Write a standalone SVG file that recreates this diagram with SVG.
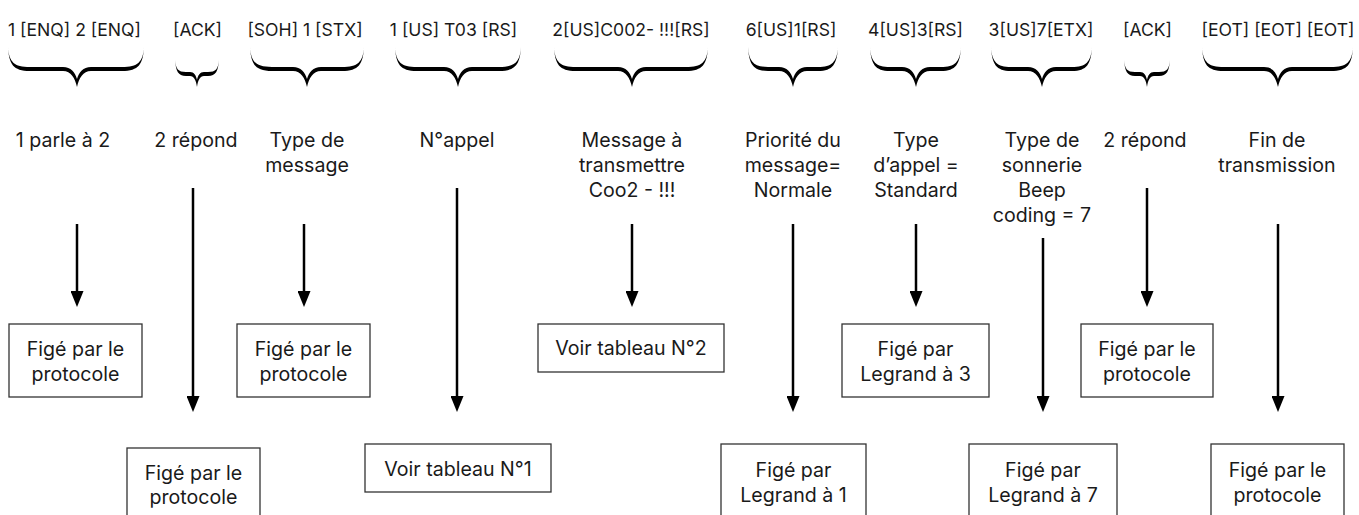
<svg xmlns="http://www.w3.org/2000/svg" width="1359" height="515" viewBox="0 0 1359 515">
<defs>
<style>
text{font-family:Inter,"Liberation Sans",Arial,sans-serif;fill:#1a1a1a;text-anchor:middle}
.top{font-size:17.6px}
.lbl{font-size:19.6px}
.box rect{fill:#fff;stroke:#333;stroke-width:1.3}
.box text{font-size:19.6px}
.brace{fill:#000}
.arr{stroke:#000;stroke-width:2.5;fill:none;marker-end:url(#ah)}
</style>
<marker id="ah" viewBox="0 0 16 13" refX="1" refY="6.5" markerWidth="16" markerHeight="13" orient="auto" markerUnits="userSpaceOnUse">
<path d="M0,0 L16,6.5 L0,13 Z" fill="#000"/>
</marker>
</defs>

<g id="top-labels">
<text class="top" x="74.5" y="36">1 [ENQ] 2 [ENQ]</text>
<text class="top" x="197.5" y="36">[ACK]</text>
<text class="top" x="305" y="36">[SOH] 1 [STX]</text>
<text class="top" x="453.5" y="36">1 [US] T03 [RS]</text>
<text class="top" x="631" y="36">2[US]C002- !!![RS]</text>
<text class="top" x="791" y="36">6[US]1[RS]</text>
<text class="top" x="915.5" y="36">4[US]3[RS]</text>
<text class="top" x="1041" y="36">3[US]7[ETX]</text>
<text class="top" x="1147.5" y="36">[ACK]</text>
<text class="top" x="1278" y="36">[EOT] [EOT] [EOT]</text>
</g>

<g id="braces">
<path class="brace" d="M8,47 C9,64 13,71 30,71 L63,71 C71,71 75,78 77,87 C79,78 83,71 91,71 L122,71 C139,71 143,64 144,47 C143,62 138,67 122,67 L91,67 C83,67 79,72 77,79 C75,72 71,67 63,67 L30,67 C14,67 9,62 8,47 Z"/>
<path class="brace" d="M175,60 C176,71 178,76 186,76 L190,76 C194,76 196,80 197,87 C198,80 200,76 204,76 L208,76 C216,76 218,71 219,60 C218,69 216,72 208,72 L204,72 C200,72 198,75 197,80 C196,75 194,72 190,72 L186,72 C178,72 176,69 175,60 Z"/>
<path class="brace" d="M250,47 C251,64 255,71 272,71 L293,71 C301,71 305,78 307,87 C309,78 313,71 321,71 L342,71 C359,71 363,64 364,47 C363,62 358,67 342,67 L321,67 C313,67 309,72 307,79 C305,72 301,67 293,67 L272,67 C256,67 251,62 250,47 Z"/>
<path class="brace" d="M395,47 C396,64 400,71 417,71 L444,71 C452,71 456,78 458,87 C460,78 464,71 472,71 L499,71 C516,71 520,64 521,47 C520,62 515,67 499,67 L472,67 C464,67 460,72 458,79 C456,72 452,67 444,67 L417,67 C401,67 396,62 395,47 Z"/>
<path class="brace" d="M554,47 C555,64 559,71 576,71 L618,71 C626,71 630,78 632,87 C634,78 638,71 646,71 L686,71 C703,71 707,64 708,47 C707,62 702,67 686,67 L646,67 C638,67 634,72 632,79 C630,72 626,67 618,67 L576,67 C560,67 555,62 554,47 Z"/>
<path class="brace" d="M748,47 C749,64 753,71 768,71 L779,71 C787,71 791,78 793,87 C795,78 799,71 807,71 L818,71 C833,71 837,64 838,47 C837,62 832,67 818,67 L807,67 C799,67 795,72 793,79 C791,72 787,67 779,67 L768,67 C754,67 749,62 748,47 Z"/>
<path class="brace" d="M870,47 C871,64 875,71 890,71 L902,71 C910,71 914,78 916,87 C918,78 922,71 930,71 L941,71 C956,71 960,64 961,47 C960,62 955,67 941,67 L930,67 C922,67 918,72 916,79 C914,72 910,67 902,67 L890,67 C876,67 871,62 870,47 Z"/>
<path class="brace" d="M991,47 C992,64 996,71 1011,71 L1028,71 C1036,71 1040,78 1042,87 C1044,78 1048,71 1056,71 L1072,71 C1087,71 1091,64 1092,47 C1091,62 1086,67 1072,67 L1056,67 C1048,67 1044,72 1042,79 C1040,72 1036,67 1028,67 L1011,67 C997,67 992,62 991,47 Z"/>
<path class="brace" d="M1124,60 C1125,71 1127,76 1135,76 L1140,76 C1144,76 1146,80 1147,87 C1148,80 1150,76 1154,76 L1159,76 C1167,76 1169,71 1170,60 C1169,69 1167,72 1159,72 L1154,72 C1150,72 1148,75 1147,80 C1146,75 1144,72 1140,72 L1135,72 C1127,72 1125,69 1124,60 Z"/>
<path class="brace" d="M1202,47 C1203,64 1207,71 1224,71 L1264,71 C1272,71 1276,78 1278,87 C1280,78 1284,71 1292,71 L1331,71 C1348,71 1352,64 1353,47 C1352,62 1347,67 1331,67 L1292,67 C1284,67 1280,72 1278,79 C1276,72 1272,67 1264,67 L1224,67 C1208,67 1203,62 1202,47 Z"/>
</g>

<g id="mid-labels">
<text class="lbl" x="63" y="147">1 parle à 2</text>
<text class="lbl" x="196" y="147">2 répond</text>
<text class="lbl" x="307" y="147">Type de</text>
<text class="lbl" x="307" y="172">message</text>
<text class="lbl" x="457" y="147">N°appel</text>
<text class="lbl" x="632" y="147">Message à</text>
<text class="lbl" x="632" y="172">transmettre</text>
<text class="lbl" x="632" y="197">Coo2 - !!!</text>
<text class="lbl" x="793" y="147">Priorité du</text>
<text class="lbl" x="793" y="172">message=</text>
<text class="lbl" x="793" y="197">Normale</text>
<text class="lbl" x="916" y="147">Type</text>
<text class="lbl" x="916" y="172">d’appel =</text>
<text class="lbl" x="916" y="197">Standard</text>
<text class="lbl" x="1042" y="147">Type de</text>
<text class="lbl" x="1042" y="172">sonnerie</text>
<text class="lbl" x="1042" y="197">Beep</text>
<text class="lbl" x="1042" y="222">coding = 7</text>
<text class="lbl" x="1145" y="147">2 répond</text>
<text class="lbl" x="1277" y="147">Fin de</text>
<text class="lbl" x="1277" y="172">transmission</text>
</g>

<g id="connectors">
<line class="arr" x1="77" y1="224" x2="77" y2="292"/>
<line class="arr" x1="193" y1="188" x2="193" y2="397"/>
<line class="arr" x1="304" y1="224" x2="304" y2="292"/>
<line class="arr" x1="457" y1="188" x2="457" y2="397"/>
<line class="arr" x1="632" y1="224" x2="632" y2="292"/>
<line class="arr" x1="793" y1="224" x2="793" y2="397"/>
<line class="arr" x1="916" y1="224" x2="916" y2="292"/>
<line class="arr" x1="1043" y1="238" x2="1043" y2="397"/>
<line class="arr" x1="1147" y1="188" x2="1147" y2="292"/>
<line class="arr" x1="1278" y1="224" x2="1278" y2="397"/>
</g>

<g id="box1" class="box"><rect x="9" y="324" width="133" height="73"/><text x="75.5" y="356">Figé par le</text><text x="75.5" y="381">protocole</text></g>
<g id="box3" class="box"><rect x="237" y="324" width="133" height="73"/><text x="303.5" y="356">Figé par le</text><text x="303.5" y="381">protocole</text></g>
<g id="box5" class="box"><rect x="538" y="324" width="186" height="48"/><text x="631" y="355">Voir tableau N°2</text></g>
<g id="box7" class="box"><rect x="842" y="324" width="147" height="73"/><text x="915.5" y="356">Figé par</text><text x="915.5" y="381">Legrand à 3</text></g>
<g id="box9" class="box"><rect x="1081" y="324" width="132" height="73"/><text x="1147" y="356">Figé par le</text><text x="1147" y="381">protocole</text></g>

<g id="box2" class="box"><rect x="127" y="448" width="133" height="73"/><text x="193.5" y="480">Figé par le</text><text x="193.5" y="504">protocole</text></g>
<g id="box4" class="box"><rect x="365" y="444" width="186" height="48"/><text x="458" y="476">Voir tableau N°1</text></g>
<g id="box6" class="box"><rect x="721" y="444" width="145" height="73"/><text x="793.5" y="477">Figé par</text><text x="793.5" y="502">Legrand à 1</text></g>
<g id="box8" class="box"><rect x="969" y="444" width="148" height="73"/><text x="1043" y="477">Figé par</text><text x="1043" y="502">Legrand à 7</text></g>
<g id="box10" class="box"><rect x="1211" y="444" width="133" height="73"/><text x="1277.5" y="477">Figé par le</text><text x="1277.5" y="502">protocole</text></g>
</svg>
